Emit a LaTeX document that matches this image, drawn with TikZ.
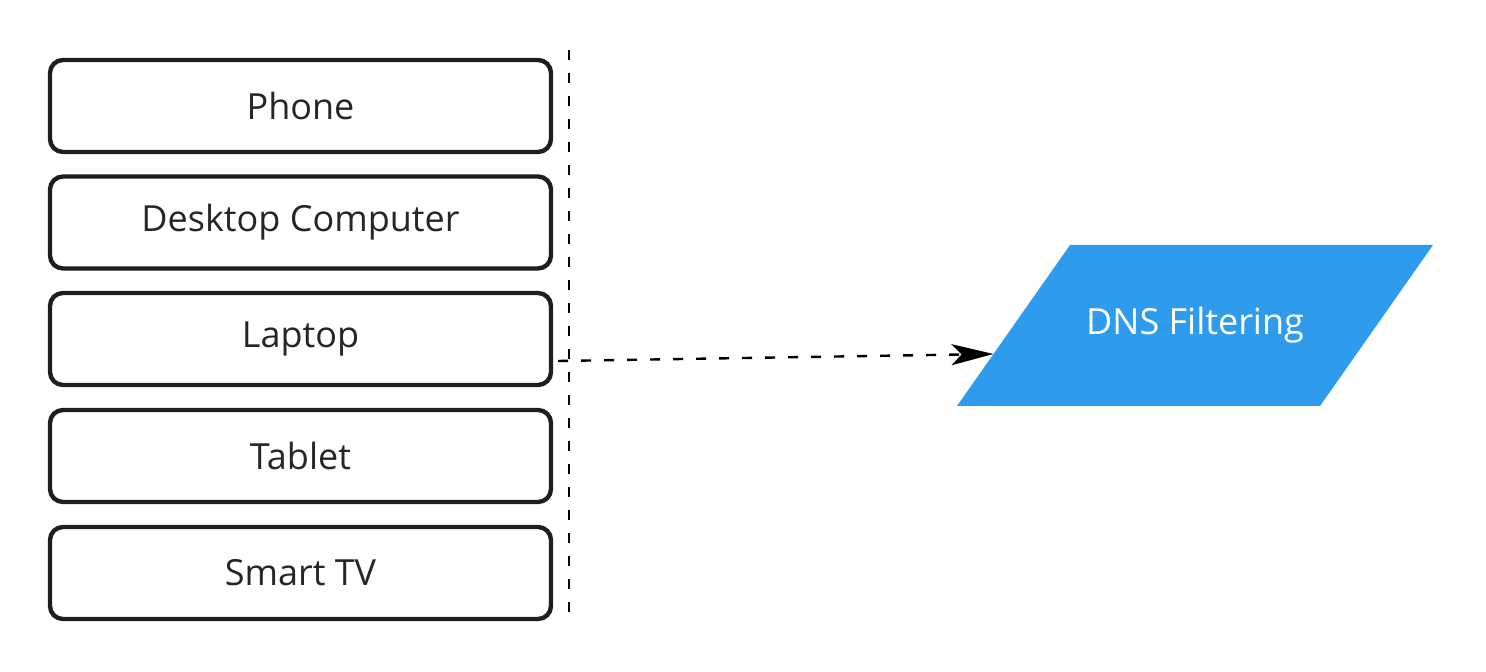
\documentclass[tikz,border=0pt]{standalone}
\usepackage{fontspec}
\setmainfont{Open Sans}
\usetikzlibrary{arrows.meta,calc}
\definecolor{dnsblue}{HTML}{2F9BEC}
\definecolor{boxline}{HTML}{1E1E1E}
\definecolor{boxtext}{HTML}{262626}
\def\devicebox#1#2#3{%
  \node[device] (#1) at (300.5,#2) {#3};%
}

\begin{document}
\begin{tikzpicture}[x=0.5pt,y=-0.5pt,
    device/.style={draw=boxline,line width=2.2pt,rounded corners=6.5pt,
      minimum width=250.5pt,minimum height=46pt,inner sep=0pt,
      text=boxtext,font=\fontsize{18}{22}\selectfont},
    filter/.style={inner sep=0pt,text=white,font=\fontsize{18}{22}\selectfont},
    divider/.style={line width=1.2pt,dash pattern=on 5pt off 6.5pt},
  ]
    \useasboundingbox (0,0) rectangle (1486,672);

    % Geraete
    \devicebox{phone}{106}{Phone}
    \devicebox{desktop}{222.5}{Desktop Computer}
    \devicebox{laptop}{339}{Laptop}
    \devicebox{tablet}{456}{Tablet}
    \devicebox{smarttv}{573}{Smart TV}

    % Trennlinie
    \coordinate (divtop) at (569,50);
    \coordinate (divbot) at (569,622);
    \draw[divider] (divtop) -- (divbot);

    % Filter
    \coordinate (bl) at (957,406);
    \coordinate (tl) at (1070,245);
    \coordinate (tr) at (1433,245);
    \coordinate (br) at (1320,406);
    \fill[dnsblue] (bl) -- (tl) -- (tr) -- (br) -- cycle;
    \node[filter] (dns) at (1195,325.5) {DNS Filtering};

    % Verbindung
    \coordinate (src) at ([xshift=2.5pt,yshift=-11pt]laptop.east);
    \coordinate (dst) at ($(bl)!0.323!(tl)$);
    \draw[divider,-{Stealth[length=21pt,width=10.5pt,inset=5pt]}] (src) -- (dst);
\end{tikzpicture}
\end{document}
